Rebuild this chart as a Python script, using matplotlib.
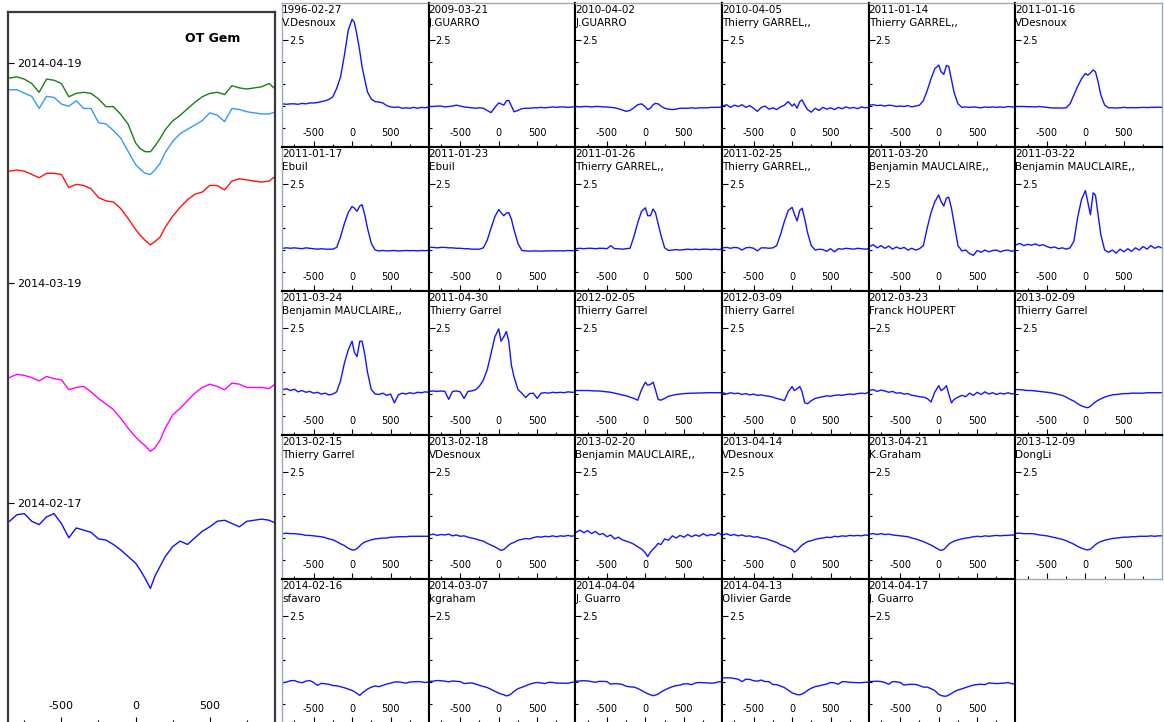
import numpy as np
import matplotlib.pyplot as plt

plt.rcParams['font.family'] = 'DejaVu Sans'
plt.rcParams['axes.unicode_minus'] = False

# radial velocity grid (km/s) shared by every profile
VEL = [-900, -850, -800, -750, -700, -650, -600, -550, -500, -450,
       -400, -350, -300, -250, -200, -150, -100, -50, 0, 30,
       65, 100, 130, 165, 200, 250, 300, 350, 400, 450,
       500, 550, 600, 650, 700, 750, 800, 850, 900, 950, 990]

# normalised H-alpha profiles, one list per spectrum
P_19960227 = [1.05, 1.04, 1.05, 1.05, 1.04, 1.06, 1.05, 1.07, 1.07, 1.08,
              1.10, 1.12, 1.15, 1.21, 1.40, 1.66, 2.15, 2.72, 2.97, 2.90,
              2.60, 2.25, 1.89, 1.60, 1.32, 1.16, 1.10, 1.09, 1.07, 1.01,
              0.98, 0.97, 0.98, 0.95, 0.96, 0.95, 0.97, 0.95, 0.97, 0.96, 0.98]
P_20090321 = [0.99, 0.99, 1.00, 1.00, 0.98, 0.99, 1.00, 1.02, 1.00, 0.98,
              0.97, 0.96, 0.95, 0.96, 0.95, 0.90, 0.85, 0.97, 1.07, 1.05,
              1.02, 1.12, 1.13, 1.00, 0.87, 0.90, 0.94, 0.95, 0.95, 0.96,
              0.96, 0.97, 0.96, 0.97, 0.98, 0.97, 0.98, 0.98, 0.97, 0.98, 0.98]
P_20100402 = [0.99, 0.98, 0.99, 0.99, 0.98, 0.99, 0.99, 0.98, 0.98, 0.97,
              0.96, 0.94, 0.91, 0.88, 0.90, 0.96, 1.03, 1.05, 0.98, 0.92,
              0.95, 1.03, 1.06, 1.05, 1.00, 0.95, 0.93, 0.92, 0.93, 0.95,
              0.95, 0.95, 0.96, 0.95, 0.96, 0.96, 0.96, 0.97, 0.97, 0.97, 0.98]
P_20100405 = [1.00, 1.03, 0.97, 1.02, 0.99, 1.03, 0.97, 1.01, 0.95, 0.88,
              0.97, 1.00, 0.93, 0.96, 0.92, 0.98, 1.02, 1.10, 1.00, 1.05,
              0.95, 1.10, 1.14, 1.02, 0.92, 0.86, 0.95, 0.90, 0.97, 0.93,
              0.96, 0.92, 0.97, 0.94, 0.98, 0.95, 0.97, 0.94, 0.98, 0.96, 0.97]
P_20110114 = [1.02, 1.03, 1.01, 1.02, 1.00, 1.02, 1.01, 0.99, 1.00, 0.99,
              1.01, 0.98, 1.00, 1.02, 1.12, 1.35, 1.62, 1.85, 1.93, 1.78,
              1.72, 1.92, 1.90, 1.60, 1.30, 1.05, 0.97, 0.98, 0.97, 0.98,
              0.97, 0.96, 0.98, 0.97, 0.98, 0.97, 0.98, 0.97, 0.99, 0.98, 0.98]
P_20110116 = [0.99, 0.99, 0.99, 0.985, 0.985, 0.98, 0.99, 0.98, 0.97, 0.96,
              0.955, 0.955, 0.955, 0.96, 1.05, 1.25, 1.45, 1.62, 1.74, 1.70,
              1.75, 1.82, 1.78, 1.55, 1.25, 1.02, 0.96, 0.96, 0.955, 0.96,
              0.97, 0.96, 0.965, 0.96, 0.965, 0.97, 0.965, 0.97, 0.97, 0.975, 0.97]
P_20110117 = [1.04, 1.05, 1.04, 1.05, 1.04, 1.03, 1.05, 1.04, 1.03, 1.02,
              1.03, 1.02, 1.02, 1.02, 1.06, 1.30, 1.60, 1.85, 1.99, 1.95,
              1.88, 2.00, 2.03, 1.80, 1.50, 1.15, 1.00, 0.98, 0.99, 0.98,
              0.985, 0.99, 0.98, 0.985, 0.99, 0.985, 0.99, 0.98, 0.99, 0.985, 0.99]
P_20110123 = [1.06, 1.06, 1.05, 1.06, 1.06, 1.05, 1.05, 1.04, 1.04, 1.03,
              1.03, 1.02, 1.02, 1.02, 1.05, 1.22, 1.50, 1.76, 1.92, 1.85,
              1.78, 1.84, 1.85, 1.70, 1.45, 1.15, 0.99, 0.98, 0.975, 0.98,
              0.98, 0.975, 0.98, 0.98, 0.985, 0.98, 0.985, 0.98, 0.99, 0.985, 0.99]
P_20110126 = [1.03, 1.04, 1.03, 1.04, 1.04, 1.03, 1.04, 1.04, 1.03, 1.10,
              1.03, 1.03, 1.02, 1.03, 1.04, 1.30, 1.62, 1.88, 1.96, 1.78,
              1.78, 1.93, 1.85, 1.60, 1.35, 1.05, 0.99, 1.00, 1.01, 1.00,
              1.01, 1.02, 1.01, 1.02, 1.01, 1.02, 1.02, 1.01, 1.02, 1.01, 1.02]
P_20110225 = [1.05, 1.06, 1.04, 1.06, 1.05, 1.00, 1.05, 1.06, 1.04, 0.98,
              1.05, 1.05, 1.04, 1.05, 1.10, 1.35, 1.65, 1.90, 1.97, 1.82,
              1.66, 1.90, 1.95, 1.70, 1.40, 1.10, 1.00, 1.02, 1.01, 0.97,
              1.03, 0.96, 1.03, 1.02, 1.04, 1.03, 1.02, 1.04, 1.03, 1.02, 1.03]
P_20110320 = [1.08, 1.12, 1.05, 1.10, 1.04, 1.09, 1.02, 1.07, 1.03, 1.06,
              1.00, 1.04, 1.00, 1.03, 1.10, 1.50, 1.85, 2.10, 2.25, 2.10,
              2.00, 2.18, 2.20, 1.95, 1.60, 1.10, 0.98, 1.00, 0.92, 0.88,
              0.99, 0.95, 1.00, 0.96, 0.99, 1.00, 0.96, 0.99, 1.00, 0.97, 1.00]
P_20110322 = [1.12, 1.15, 1.10, 1.13, 1.11, 1.14, 1.10, 1.12, 1.08, 1.05,
              1.07, 1.03, 1.05, 1.02, 1.05, 1.20, 1.75, 2.15, 2.35, 2.10,
              1.80, 2.30, 2.25, 1.80, 1.35, 1.00, 0.95, 1.00, 0.93, 1.02,
              0.96, 1.03, 0.97, 1.05, 1.00, 1.08, 1.02, 1.10, 1.04, 1.08, 1.05]
P_20110324 = [1.10, 1.12, 1.08, 1.11, 1.05, 1.08, 1.04, 1.06, 1.02, 1.04,
              1.00, 1.02, 0.98, 1.00, 1.05, 1.30, 1.70, 2.00, 2.20, 1.95,
              1.85, 2.20, 2.20, 1.90, 1.50, 1.10, 1.00, 0.99, 1.02, 0.97,
              1.00, 0.80, 0.98, 1.02, 1.00, 1.03, 1.01, 1.04, 1.03, 1.05, 1.04]
P_20110430 = [1.06, 1.07, 1.06, 1.07, 1.06, 0.88, 1.06, 1.07, 1.05, 0.90,
              1.06, 1.07, 1.10, 1.18, 1.32, 1.55, 1.92, 2.30, 2.48, 2.20,
              2.30, 2.42, 2.20, 1.65, 1.38, 1.10, 1.02, 0.92, 1.01, 1.02,
              0.90, 1.02, 1.03, 1.02, 1.04, 1.03, 1.04, 1.03, 1.05, 1.04, 1.04]
P_20120205 = [1.08, 1.08, 1.08, 1.08, 1.075, 1.07, 1.07, 1.06, 1.05, 1.04,
              1.02, 1.00, 0.98, 0.96, 0.93, 0.90, 0.86, 1.10, 1.27, 1.20,
              1.22, 1.27, 1.10, 0.88, 0.86, 0.90, 0.95, 0.97, 0.99, 1.00,
              1.01, 1.015, 1.02, 1.02, 1.025, 1.025, 1.03, 1.03, 1.03, 1.03, 1.03]
P_20120309 = [1.03, 1.00, 1.03, 1.01, 1.02, 0.99, 1.01, 0.98, 1.00, 0.97,
              0.98, 0.96, 0.95, 0.93, 0.90, 0.88, 0.85, 1.05, 1.17, 1.08,
              1.12, 1.17, 1.05, 0.80, 0.78, 0.85, 0.90, 0.92, 0.94, 0.96,
              0.95, 0.97, 0.98, 0.97, 0.99, 1.00, 0.99, 1.01, 1.02, 1.01, 1.04]
P_20120323 = [1.08, 1.10, 1.06, 1.09, 1.07, 1.04, 1.06, 1.02, 1.03, 1.00,
              1.01, 0.97, 0.96, 0.94, 0.93, 0.90, 0.82, 1.05, 1.19, 1.08,
              1.12, 1.19, 1.00, 0.80, 0.88, 0.93, 0.97, 0.94, 1.02, 0.97,
              1.04, 0.99, 1.05, 1.00, 1.03, 0.99, 1.02, 1.00, 1.03, 1.00, 1.02]
P_20130209 = [1.10, 1.10, 1.09, 1.08, 1.08, 1.07, 1.06, 1.05, 1.04, 1.03,
              1.01, 0.99, 0.97, 0.93, 0.88, 0.84, 0.78, 0.73, 0.70, 0.69,
              0.72, 0.78, 0.82, 0.86, 0.89, 0.93, 0.96, 0.98, 0.99, 1.00,
              1.01, 1.01, 1.02, 1.02, 1.02, 1.02, 1.03, 1.03, 1.03, 1.03, 1.03]
P_20130215 = [1.10, 1.11, 1.10, 1.10, 1.09, 1.08, 1.06, 1.06, 1.05, 1.04,
              1.03, 1.01, 0.98, 0.96, 0.92, 0.87, 0.83, 0.77, 0.73, 0.73,
              0.76, 0.82, 0.87, 0.91, 0.93, 0.96, 0.98, 0.99, 1.00, 1.00,
              1.02, 1.02, 1.03, 1.03, 1.03, 1.04, 1.04, 1.04, 1.04, 1.04, 1.04]
P_20130218 = [1.07, 1.09, 1.06, 1.08, 1.07, 1.09, 1.05, 1.07, 1.04, 1.05,
              1.02, 1.00, 0.98, 0.95, 0.93, 0.88, 0.84, 0.80, 0.75, 0.72,
              0.74, 0.79, 0.84, 0.88, 0.90, 0.95, 0.97, 0.99, 0.98, 1.01,
              1.03, 1.02, 1.04, 1.03, 1.05, 1.03, 1.05, 1.04, 1.06, 1.04, 1.06]
P_20130220 = [1.13, 1.18, 1.12, 1.17, 1.10, 1.15, 1.08, 1.10, 1.03, 1.07,
              0.98, 1.02, 0.96, 0.93, 0.90, 0.86, 0.80, 0.75, 0.66, 0.58,
              0.68, 0.75, 0.80, 0.88, 0.85, 0.98, 0.95, 1.05, 1.00, 1.06,
              1.02, 1.08, 1.03, 1.07, 1.04, 1.10, 1.05, 1.08, 1.06, 1.12, 1.07]
P_20130414 = [1.07, 1.10, 1.06, 1.08, 1.05, 1.07, 1.04, 1.05, 1.02, 1.03,
              1.00, 0.99, 0.96, 0.93, 0.90, 0.85, 0.82, 0.78, 0.74, 0.68,
              0.72, 0.79, 0.84, 0.88, 0.92, 0.94, 0.97, 0.99, 1.00, 1.02,
              1.01, 1.04, 1.03, 1.05, 1.04, 1.06, 1.05, 1.06, 1.05, 1.07, 1.06]
P_20130421 = [1.09, 1.10, 1.08, 1.10, 1.08, 1.09, 1.07, 1.06, 1.05, 1.04,
              1.03, 1.00, 0.98, 0.95, 0.92, 0.88, 0.84, 0.79, 0.74, 0.72,
              0.74, 0.80, 0.86, 0.90, 0.93, 0.96, 0.98, 1.00, 1.01, 1.03,
              1.04, 1.03, 1.05, 1.04, 1.05, 1.06, 1.05, 1.06, 1.06, 1.07, 1.06]
P_20131209 = [1.11, 1.11, 1.10, 1.10, 1.10, 1.09, 1.07, 1.06, 1.05, 1.03,
              1.01, 0.99, 0.97, 0.94, 0.90, 0.86, 0.81, 0.77, 0.74, 0.73,
              0.75, 0.80, 0.85, 0.89, 0.92, 0.95, 0.97, 0.99, 1.00, 1.01,
              1.02, 1.02, 1.03, 1.03, 1.04, 1.04, 1.04, 1.05, 1.04, 1.05, 1.05]
P_20140216 = [0.985, 1.00, 1.03, 1.035, 1.00, 0.985, 1.02, 1.035, 0.99, 0.925,
              0.97, 0.96, 0.95, 0.92, 0.915, 0.895, 0.87, 0.84, 0.81, 0.78,
              0.74, 0.695, 0.75, 0.795, 0.84, 0.885, 0.91, 0.895, 0.925, 0.955,
              0.975, 1.00, 1.005, 0.99, 0.975, 1.00, 1.005, 1.01, 1.005, 0.99, 1.00]
P_20140307 = [1.015, 1.02, 1.035, 1.03, 1.02, 1.005, 1.025, 1.015, 1.01, 0.965,
              0.975, 0.98, 0.955, 0.925, 0.90, 0.875, 0.835, 0.79, 0.75, 0.73,
              0.71, 0.685, 0.70, 0.735, 0.79, 0.85, 0.88, 0.915, 0.95, 0.975,
              0.99, 0.98, 0.965, 0.995, 0.99, 0.975, 0.975, 0.975, 0.97, 0.995, 1.00]
P_20140404 = [1.02, 1.025, 1.03, 1.025, 1.01, 0.995, 1.015, 1.015, 1.01, 0.95,
              0.965, 0.96, 0.945, 0.905, 0.89, 0.885, 0.855, 0.81, 0.76, 0.735,
              0.71, 0.69, 0.705, 0.725, 0.77, 0.82, 0.86, 0.895, 0.92, 0.93,
              0.96, 0.96, 0.94, 0.98, 0.99, 0.985, 0.98, 0.975, 0.98, 1.005, 1.01]
P_20140413 = [1.095, 1.095, 1.095, 1.08, 1.065, 1.01, 1.065, 1.06, 1.03, 1.02,
              1.045, 1.01, 1.01, 0.945, 0.94, 0.91, 0.875, 0.815, 0.755, 0.735,
              0.715, 0.71, 0.73, 0.76, 0.81, 0.86, 0.895, 0.915, 0.935, 0.955,
              0.99, 0.98, 0.95, 1.01, 1.005, 0.995, 0.99, 0.985, 0.985, 0.995, 0.995]
P_20140417 = [1.01, 1.015, 1.02, 1.01, 0.99, 0.95, 1.01, 1.005, 0.99, 0.93,
              0.945, 0.95, 0.945, 0.92, 0.885, 0.885, 0.85, 0.805, 0.72, 0.695,
              0.68, 0.68, 0.705, 0.74, 0.78, 0.82, 0.845, 0.875, 0.905, 0.93,
              0.945, 0.95, 0.94, 0.98, 0.97, 0.965, 0.97, 0.975, 0.99, 0.96, 0.965]

DATES = ['1996-02-27', '2009-03-21', '2010-04-02', '2010-04-05', '2011-01-14', '2011-01-16',
         '2011-01-17', '2011-01-23', '2011-01-26', '2011-02-25', '2011-03-20', '2011-03-22',
         '2011-03-24', '2011-04-30', '2012-02-05', '2012-03-09', '2012-03-23', '2013-02-09',
         '2013-02-15', '2013-02-18', '2013-02-20', '2013-04-14', '2013-04-21', '2013-12-09',
         '2014-02-16', '2014-03-07', '2014-04-04', '2014-04-13', '2014-04-17']
OBSERVERS = ['V.Desnoux', 'J.GUARRO', 'J.GUARRO', 'Thierry GARREL,,', 'Thierry GARREL,,', 'VDesnoux',
             'Ebuil', 'Ebuil', 'Thierry GARREL,,', 'Thierry GARREL,,', 'Benjamin MAUCLAIRE,,',
             'Benjamin MAUCLAIRE,,',
             'Benjamin MAUCLAIRE,,', 'Thierry Garrel', 'Thierry Garrel', 'Thierry Garrel',
             'Franck HOUPERT', 'Thierry Garrel',
             'Thierry Garrel', 'VDesnoux', 'Benjamin MAUCLAIRE,,', 'VDesnoux', 'K.Graham', 'DongLi',
             'sfavaro', 'kgraham', 'J. Guarro', 'Olivier Garde', 'J. Guarro']
PROFILES = [P_19960227, P_20090321, P_20100402, P_20100405, P_20110114, P_20110116,
            P_20110117, P_20110123, P_20110126, P_20110225, P_20110320, P_20110322,
            P_20110324, P_20110430, P_20120205, P_20120309, P_20120323, P_20130209,
            P_20130215, P_20130218, P_20130220, P_20130414, P_20130421, P_20131209,
            P_20140216, P_20140307, P_20140404, P_20140413, P_20140417]

# stacked panel: recent spectra shifted vertically by observation date
STACK_DATES = ['2014-02-16', '2014-03-07', '2014-04-04', '2014-04-13', '2014-04-17']
STACK_PROFILES = [P_20140216, P_20140307, P_20140404, P_20140413, P_20140417]
STACK_COLORS = ['#1010ff', '#ff00ff', '#ff1010', '#3399ff', '#1a7f1a']
STACK_TICKS = [0, 30, 60]
STACK_TICK_LABELS = ['2014-02-17', '2014-03-19', '2014-04-19']

W, H = 1164, 722
fig = plt.figure(figsize=(W / 100, H / 100), dpi=100)


def px_axes(x0, y0, x1, y1):
    """axes placed by pixel box (origin top-left)"""
    return fig.add_axes([x0 / W, 1 - y1 / H, (x1 - x0) / W, (y1 - y0) / H])


EDGE = '#9aaabb'
NCOLS = 6
CW, RH = 146.67, 144

for i, (date, obs, flux) in enumerate(zip(DATES, OBSERVERS, PROFILES)):
    r, c = divmod(i, NCOLS)
    x0 = 282 + c * CW
    y0 = 3 + r * RH
    ax = px_axes(x0, y0, x0 + CW, y0 + RH)
    ax.plot(VEL, flux, color='#1414ff', lw=1.0)
    ax.set_xlim(-910, 995)
    ax.set_ylim(0.07, 3.34)

    ax.set_xticks([-500, 0, 500])
    ax.set_xticks([-750, -250, 250, 750], minor=True)
    ax.set_yticks([2.5])
    ax.set_yticks([0.5, 1.0, 1.5, 2.0], minor=True)
    ax.tick_params(which='both', direction='in', labelsize=7, width=0.8)
    ax.tick_params(axis='x', which='major', length=4, pad=-13.5)
    ax.tick_params(axis='x', which='minor', length=2.5)
    ax.tick_params(axis='y', which='major', length=4, pad=-5)
    ax.tick_params(axis='y', which='minor', length=2.5)
    for t in ax.get_yticklabels():
        t.set_horizontalalignment('left')

    for s in ax.spines.values():
        s.set_linewidth(1.5)
        s.set_color('black')
    if r == 0:
        ax.spines['top'].set(color=EDGE, linewidth=1)
    if c == 0:
        ax.spines['left'].set(color=EDGE, linewidth=1)
    if c == NCOLS - 1:
        ax.spines['right'].set(color=EDGE, linewidth=1)
        if i + NCOLS >= len(DATES):
            ax.spines['bottom'].set(color=EDGE, linewidth=1)

    ax.text(0, 1 - 2 / RH, date, transform=ax.transAxes, ha='left', va='top',
            fontsize=7.5, clip_on=True)
    ax.text(0, 1 - 15 / RH, obs, transform=ax.transAxes, ha='left', va='top',
            fontsize=7.5, clip_on=True)

# left panel with the stacked 2014 profiles
axL = px_axes(8, 12, 275, 723)
t0 = np.datetime64(STACK_TICK_LABELS[0])
for date, flux, col in zip(STACK_DATES, STACK_PROFILES, STACK_COLORS):
    day = (np.datetime64(date) - t0).astype(int)
    axL.plot(VEL, day + 30 * (np.array(flux) - 1.05), color=col, lw=1)
axL.set_xlim(-860, 940)
axL.set_ylim(-30, 66.95)
axL.set_xticks([-500, 0, 500])
axL.set_xticks([-750, -250, 250, 750], minor=True)
axL.set_yticks(STACK_TICKS)
axL.set_yticklabels(STACK_TICK_LABELS)
axL.tick_params(which='both', direction='in', labelsize=8, width=0.8)
axL.tick_params(axis='x', which='major', length=4, pad=-16)
axL.tick_params(axis='x', which='minor', length=2.5)
axL.tick_params(axis='y', which='major', length=4, pad=-6.5)
for t in axL.get_yticklabels():
    t.set_horizontalalignment('left')
for s in axL.spines.values():
    s.set_linewidth(1.6)
    s.set_color('#3a3a3a')
axL.text(0.768, 0.963, 'OT Gem', transform=axL.transAxes, ha='center', va='center',
         fontsize=9, fontweight='bold')

fig.savefig('out.png', dpi=100)
